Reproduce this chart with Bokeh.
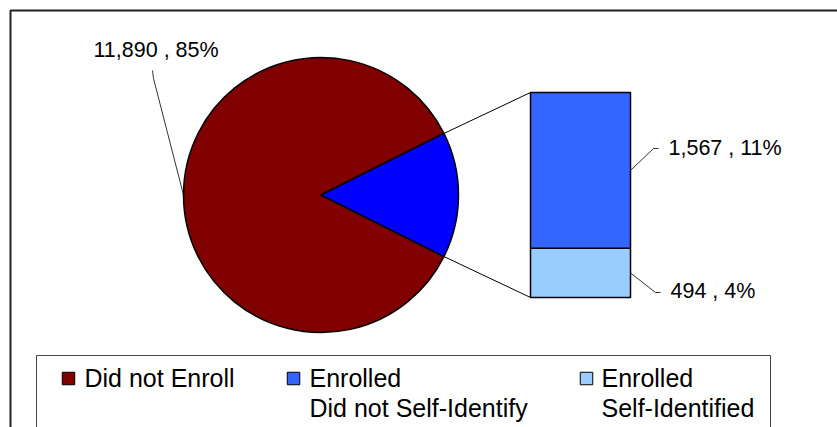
import math
from bokeh.plotting import figure
from bokeh.models import Range1d
from bokeh.core.properties import value
from bokeh.embed import file_html
from bokeh.resources import INLINE

# ---- data ----
categories = ["Did not Enroll", "Enrolled\nDid not Self-Identify", "Enrolled\nSelf-Identified"]
counts = [11890, 1567, 494]
legend_colors = ["#800000", "#3366FF", "#99CCFF"]
pie_colors = ["#800000", "#0000FF"]

FONT = value("Liberation Sans")
W, H = 837, 427


def Y(sy):
    # screen pixel row -> data y
    return H - sy


p = figure(width=W, height=H, x_range=Range1d(0, W), y_range=Range1d(0, H),
           output_backend="svg", toolbar_location=None, min_border=0,
           x_axis_location=None, y_axis_location=None)
p.grid.visible = False
p.outline_line_color = None
p.background_fill_color = "white"
p.border_fill_color = "white"

# outer chart frame (extends beyond the picture on right and bottom)
p.quad(left=10, right=900, top=Y(10), bottom=-50, fill_color=None,
       line_color="#222222", line_width=2)

total = sum(counts)
enrolled = counts[1] + counts[2]
half = math.pi * enrolled / total

# ---- pie ----
cx, cy, R = 320.5, Y(194.5), 137.5
p.wedge(x=cx, y=cy, radius=R, start_angle=half, end_angle=2 * math.pi - half,
        fill_color=pie_colors[0], line_color="black", line_width=1.5)
p.wedge(x=cx, y=cy, radius=R, start_angle=-half, end_angle=half,
        fill_color=pie_colors[1], line_color="black", line_width=1.5)

# ---- bar of pie ----
bx0, bx1 = 530, 630
b_bot, b_top = Y(297), Y(92)
s = (b_top - b_bot) / enrolled
split = b_bot + counts[2] * s
p.quad(left=[bx0, bx0], right=[bx1, bx1], bottom=[b_bot, split], top=[split, b_top],
       fill_color=[legend_colors[2], legend_colors[1]], line_color="black", line_width=1.5)

# connector lines
ex = cx + R * math.cos(half)
p.segment(x0=[ex, ex], y0=[cy + R * math.sin(half), cy - R * math.sin(half)],
          x1=[bx0, bx0], y1=[b_top, b_bot], line_color="black", line_width=1)

# ---- data labels ----
pct = [round(100 * c / total) for c in counts]
labels = [f"{c:,} , {q}%" for c, q in zip(counts, pct)]
lab_x = [93, 668, 670]
lab_y = [Y(49), Y(147), Y(290)]
p.text(x=lab_x, y=lab_y, text=labels, text_font=FONT, text_font_size="21.5px",
       text_color="black", text_align="left", text_baseline="middle")

mid_blue = (split + b_top) / 2
mid_light = (b_bot + split) / 2
p.multi_line(xs=[[152, 153, cx - R], [bx1, 653, 658], [bx1, 655, 660]],
             ys=[[Y(70), Y(78), cy], [mid_blue, Y(148), Y(148)], [mid_light, Y(292), Y(292)]],
             line_color="black", line_width=0.8)

# ---- legend ----
p.quad(left=36, right=770, top=Y(355), bottom=-50, fill_color=None,
       line_color="#444444", line_width=1)
mk_x = [68, 293, 586]
p.rect(x=mk_x, y=[Y(378)] * 3, width=12.5, height=12.5, fill_color=legend_colors,
       line_color="black", line_width=1)
txt_x = [84, 309, 601]
first = [c.split("\n")[0] for c in categories]
p.text(x=txt_x, y=[Y(377)] * 3, text=first, text_font=FONT, text_font_size="25px",
       text_color="black", text_align="left", text_baseline="middle")
sec_x, sec = [], []
for xx, c in zip(txt_x, categories):
    parts = c.split("\n")
    if len(parts) > 1:
        sec_x.append(xx)
        sec.append(parts[1])
p.text(x=sec_x, y=[Y(407)] * len(sec), text=sec, text_font=FONT, text_font_size="25px",
       text_color="black", text_align="left", text_baseline="middle")

open("out.html", "w").write(file_html(p, INLINE))
